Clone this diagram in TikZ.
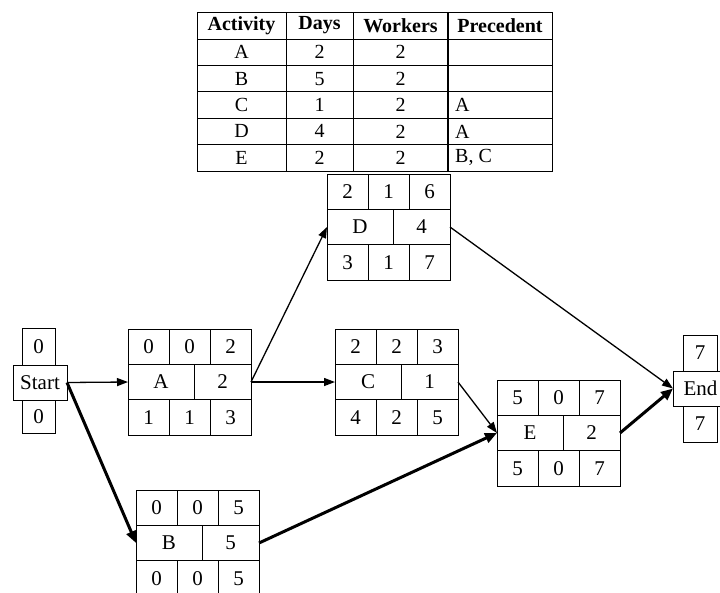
\documentclass[tikz,border=0pt]{standalone}
\usepackage{fontspec}
\setmainfont{Liberation Serif}
\usetikzlibrary{arrows.meta}
\tikzset{
  cell/.style={inner sep=0pt, outer sep=0pt, font=\fontsize{21}{23}\selectfont},
  cellbox/.style={draw, line width=0.9pt, inner sep=0pt, outer sep=0pt, font=\fontsize{21}{23}\selectfont},
  thinarrow/.style={line width=1.3pt, -{Triangle[length=11pt,width=8pt]}},
  thickarrow/.style={line width=3pt, -{Triangle[length=12pt,width=10pt]}},
  tabtext/.style={inner sep=0pt, font=\fontsize{20}{22}\selectfont},
  tabhead/.style={inner sep=0pt, font=\fontsize{20}{22}\selectfont\bfseries},
  gridline/.style={line width=0.9pt},
}
% id, left, top, label, duration, t1, t2, t3
\newcommand{\actbox}[8]{%
  \node[draw, line width=0.9pt, minimum width=123pt, minimum height=106pt, anchor=north west, inner sep=0pt, outer sep=0pt] (#1) at (#2,#3) {};
  \draw[gridline] ({#2},{#3+35.3}) -- ({#2+123},{#3+35.3});
  \draw[gridline] ({#2},{#3+70.7}) -- ({#2+123},{#3+70.7});
  \draw[gridline] ({#2+41},{#3}) -- ({#2+41},{#3+35.3});
  \draw[gridline] ({#2+82},{#3}) -- ({#2+82},{#3+35.3});
  \draw[gridline] ({#2+66},{#3+35.3}) -- ({#2+66},{#3+70.7});
  \draw[gridline] ({#2+41},{#3+70.7}) -- ({#2+41},{#3+106});
  \draw[gridline] ({#2+82},{#3+70.7}) -- ({#2+82},{#3+106});
  \node[cell] (#1-t1) at ({#2+20.5},{#3+17.7}) {#6};
  \node[cell] (#1-t2) at ({#2+61.5},{#3+17.7}) {#7};
  \node[cell] (#1-t3) at ({#2+102.5},{#3+17.7}) {#8};
  \node[cell] (#1-name) at ({#2+33},{#3+53}) {#4};
  \node[cell] (#1-dur) at ({#2+94.5},{#3+53}) {#5};
}
% id, left, top, b1, b2, b3
\newcommand{\actbot}[6]{%
  \node[cell] (#1-b1) at ({#2+20.5},{#3+88.4}) {#4};
  \node[cell] (#1-b2) at ({#2+61.5},{#3+88.4}) {#5};
  \node[cell] (#1-b3) at ({#2+102.5},{#3+88.4}) {#6};
}
\begin{document}
\begin{tikzpicture}[x=1pt,y=-1pt]
\useasboundingbox (0,0) rectangle (720,592);
\fill[white] (0,0) rectangle (720,592);

% ---------- table ----------
\draw[gridline] (197,12) rectangle (552,171);
\foreach \yy in {39,65.4,91.8,118.2,144.6} \draw[gridline] (197,\yy) -- (552,\yy);
\foreach \xx in {286,353} \draw[gridline] (\xx,12) -- (\xx,171);
\draw[line width=1.4pt] (448,12) -- (448,171);
\node[tabhead] (h1) at (241.5,25.5) {Activity};
\node[tabhead] (h2) at (319.5,25.5) {Days};
\node[tabhead] (h3) at (400.5,25.5) {Workers};
\node[tabhead] (h4) at (500,25.5) {Precedent};
\node[tabtext] (a1) at (241.5,52.2) {A};
\node[tabtext] (a2) at (319.5,52.2) {2};
\node[tabtext] (a3) at (400.5,52.2) {2};
\node[tabtext] (b1) at (241.5,78.6) {B};
\node[tabtext] (b2) at (319.5,78.6) {5};
\node[tabtext] (b3) at (400.5,78.6) {2};
\node[tabtext] (c1) at (241.5,105) {C};
\node[tabtext] (c2) at (319.5,105) {1};
\node[tabtext] (c3) at (400.5,105) {2};
\node[tabtext,anchor=west] (c4) at (455,105) {A};
\node[tabtext] (d1) at (241.5,131.4) {D};
\node[tabtext] (d2) at (319.5,131.4) {4};
\node[tabtext] (d3) at (400.5,131.4) {2};
\node[tabtext,anchor=west] (d4) at (455,131.4) {A};
\node[tabtext] (e1) at (241.5,157.8) {E};
\node[tabtext] (e2) at (319.5,157.8) {2};
\node[tabtext] (e3) at (400.5,157.8) {2};
\node[tabtext,anchor=west] (e4) at (455,157.8) {B, C};

% ---------- Start / End ----------
\node[cellbox, minimum width=33pt, minimum height=37pt] (Start-t) at (38.5,346.5) {0};
\node[cellbox, minimum width=33pt, minimum height=33pt] (Start-b) at (38.5,416.5) {0};
\node[cellbox, minimum width=54pt, minimum height=35pt, fill=white] (Start) at (40,382.5) {Start};

\node[cellbox, minimum width=34pt, minimum height=36pt] (End-t) at (700,353) {7};
\node[cellbox, minimum width=34pt, minimum height=36pt] (End-b) at (700,424) {7};
\node[cellbox, minimum width=55pt, minimum height=35pt, fill=white] (End) at (700.5,388.5) {End};

% ---------- activity boxes ----------
\actbox{A}{128}{329}{A}{2}{0}{0}{2}
\actbot{A}{128}{329}{1}{1}{3}
\actbox{D}{327}{174}{D}{4}{2}{1}{6}
\actbot{D}{327}{174}{3}{1}{7}
\actbox{C}{335}{329}{C}{1}{2}{2}{3}
\actbot{C}{335}{329}{4}{2}{5}
\actbox{E}{497}{380}{E}{2}{5}{0}{7}
\actbot{E}{497}{380}{5}{0}{7}
\actbox{B}{136}{490}{B}{5}{0}{0}{5}
\actbot{B}{136}{490}{0}{0}{5}

% ---------- connectors ----------
\draw[thinarrow] (Start.east) -- (A.west);
\draw[thickarrow] (Start.east) -- (B.west);
\draw[thinarrow] (A.east) -- (D.west);
\draw[thinarrow] (A.east) -- (C.west);
\draw[thinarrow] (D.east) -- (End.west);
\draw[thinarrow] (C.east) -- (E.west);
\draw[thickarrow] (B.east) -- (E.west);
\draw[thickarrow] (E.east) -- (End.west);
\end{tikzpicture}
\end{document}
